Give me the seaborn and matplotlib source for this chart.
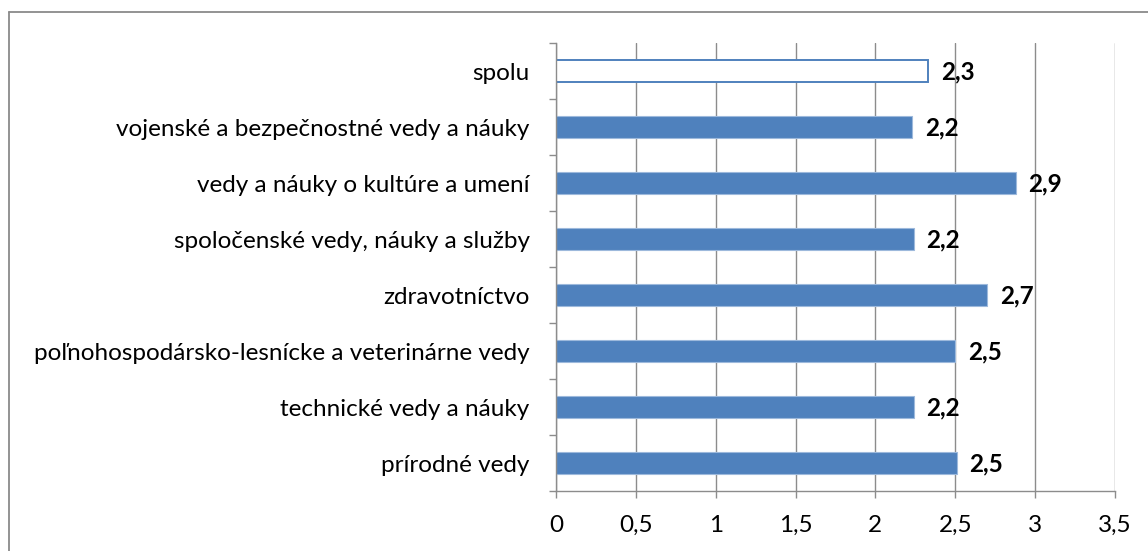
import matplotlib
matplotlib.use("Agg")
import matplotlib.pyplot as plt
import seaborn as sns
import numpy as np
from matplotlib.ticker import FuncFormatter
from matplotlib.lines import Line2D

categories = [
    "spolu",
    "vojenské a bezpečnostné vedy a náuky",
    "vedy a náuky o kultúre a umení",
    "spoločenské vedy, náuky a služby",
    "zdravotníctvo",
    "poľnohospodársko-lesnícke a veterinárne vedy",
    "technické vedy a náuky",
    "prírodné vedy",
]
values = [2.33, 2.23, 2.88, 2.24, 2.70, 2.50, 2.24, 2.51]
value_labels = ["2,3", "2,2", "2,9", "2,2", "2,7", "2,5", "2,2", "2,5"]
x_ticks = [0, 0.5, 1, 1.5, 2, 2.5, 3, 3.5]

sns.set_theme(style="white")
plt.rcParams["font.family"] = ["Lato", "DejaVu Sans"]

W, H = 1148, 551
fig = plt.figure(figsize=(W / 100, H / 100), dpi=100)
ax = fig.add_axes([556 / W, 1 - 491 / H, (1115 - 556) / W, (491 - 43) / H])

blue = "#4F81BD"
sns.barplot(x=values, y=categories, orient="h", color=blue, width=0.4,
            saturation=1, ax=ax, edgecolor="#9DB9DC", linewidth=0.8)

# first bar ("spolu") hollow
p0 = ax.patches[0]
p0.set_facecolor("white")
p0.set_edgecolor(blue)
p0.set_linewidth(1.4)

FS = 17.5
ax.set_xlim(0, 3.5)
ax.set_ylim(len(categories) - 0.5, -0.5)
ax.set_xticks(x_ticks)
ax.xaxis.set_major_formatter(FuncFormatter(lambda v, p: ("%g" % v).replace(".", ",")))
ax.grid(axis="x", color="#8C8C8C", linewidth=1.0)
ax.grid(axis="y", visible=False)
ax.set_axisbelow(True)

for s in ["top", "right"]:
    ax.spines[s].set_visible(False)
for s in ["left", "bottom"]:
    ax.spines[s].set_color("#8C8C8C")
    ax.spines[s].set_linewidth(1.0)

ax.set_yticks(np.arange(-0.5, len(categories), 1.0), minor=True)
ax.tick_params(axis="y", which="major", length=0, pad=19, labelsize=FS, colors="black")
ax.tick_params(axis="y", which="minor", length=5, width=1, color="#8C8C8C", left=True)
ax.tick_params(axis="x", which="major", length=5, width=1, color="#8C8C8C", bottom=True,
               labelsize=FS, pad=12, colors="black")
ax.set_xlabel("")
ax.set_ylabel("")

for i, (v, lab) in enumerate(zip(values, value_labels)):
    ax.annotate(lab, xy=(v, i), xytext=(9, -1), textcoords="offset points",
                ha="left", va="center", fontsize=FS, fontweight="bold", color="black")

# outer chart border (top and left visible)
fig.add_artist(Line2D([8.5 / W, 1.0], [1 - 11.5 / H, 1 - 11.5 / H], transform=fig.transFigure,
                      color="#8A8A8A", linewidth=1.3))
fig.add_artist(Line2D([8.5 / W, 8.5 / W], [0, 1 - 11.5 / H], transform=fig.transFigure,
                      color="#8A8A8A", linewidth=1.3))

fig.savefig("out.png", dpi=100)
